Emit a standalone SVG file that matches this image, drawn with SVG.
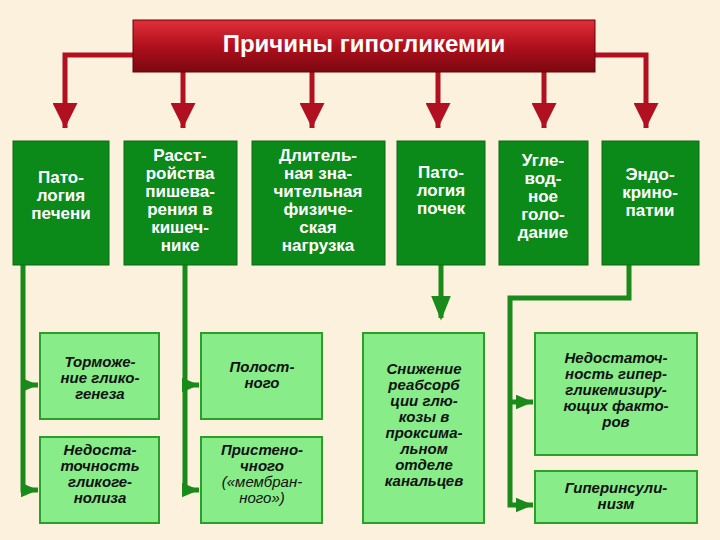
<svg xmlns="http://www.w3.org/2000/svg" width="720" height="540" viewBox="0 0 720 540">
<defs>
<linearGradient id="rg" x1="0" y1="0" x2="0" y2="1"><stop offset="0" stop-color="#e0303a"/><stop offset="0.5" stop-color="#b0101c"/><stop offset="1" stop-color="#7a0810"/></linearGradient>
<marker id="ra" markerWidth="6" markerHeight="5" refX="5" refY="2.5" orient="auto" markerUnits="strokeWidth"><path d="M0,0 L5,2.5 L0,5 Z" fill="#b01020"/></marker>
<marker id="ga" markerWidth="4" markerHeight="3" refX="3.5" refY="1.5" orient="auto" markerUnits="strokeWidth"><path d="M0,0 L3.5,1.5 L0,3 Z" fill="#1a8a1a"/></marker>
<marker id="gb" markerWidth="5" markerHeight="4" refX="4.5" refY="2" orient="auto" markerUnits="strokeWidth"><path d="M0,0 L5,2 L0,4 Z" fill="#1a8a1a"/></marker>
</defs>
<style>
.top{fill:#0b8a1a;stroke:#0a6a14;stroke-width:1}
.low{fill:#88ec88;stroke:#2aa02a;stroke-width:2}
.tt{font-family:"Liberation Sans",Arial,sans-serif;font-weight:bold;font-size:17px;fill:#fff;text-anchor:middle}
.lt{font-family:"Liberation Sans",Arial,sans-serif;font-weight:bold;font-style:italic;font-size:15px;fill:#111;text-anchor:middle}
.rl{stroke:#b01020;stroke-width:5;fill:none}
.gl{stroke:#1a8a1a;stroke-width:5;fill:none}
</style>
<rect width="720" height="540" fill="#fbf1dc"/>
<g id="connectors">
<path class="rl" d="M133,55 H65 V128" marker-end="url(#ra)"/>
<path class="rl" d="M183,72 V128" marker-end="url(#ra)"/>
<path class="rl" d="M312,72 V128" marker-end="url(#ra)"/>
<path class="rl" d="M438,72 V128" marker-end="url(#ra)"/>
<path class="rl" d="M544,72 V128" marker-end="url(#ra)"/>
<path class="rl" d="M595,55 H646 V128" marker-end="url(#ra)"/>
<path class="gl" d="M23,265 V492.5"/>
<path class="gl" d="M21,385 H38" marker-end="url(#ga)"/>
<path class="gl" d="M21,490 H38" marker-end="url(#ga)"/>
<path class="gl" d="M185,265 V492.5"/>
<path class="gl" d="M183,385 H199" marker-end="url(#ga)"/>
<path class="gl" d="M183,490 H199" marker-end="url(#ga)"/>
<path class="gl" d="M441,265 V318" marker-end="url(#gb)"/>
<path class="gl" d="M629,265 V298 H510 V505 H533" marker-end="url(#ga)"/>
<path class="gl" d="M508,402 H533" marker-end="url(#ga)"/>
</g>
<g id="title">
<rect x="133" y="20" width="462" height="52" fill="url(#rg)" stroke="#6a0008" stroke-width="1"/>
<text x="364" y="52" font-family="Liberation Sans,Arial,sans-serif" font-weight="bold" font-size="24" fill="#fff" text-anchor="middle">Причины гипогликемии</text>
</g>
<g id="n1"><rect class="top" x="13" y="141" width="96" height="124"/><text class="tt"><tspan x="61" y="183">Пато-</tspan><tspan x="61" y="201">логия</tspan><tspan x="61" y="219">печени</tspan></text></g>
<g id="n2"><rect class="top" x="124" y="141" width="113" height="124"/><text class="tt"><tspan x="180" y="161">Расст-</tspan><tspan x="180" y="179">ройства</tspan><tspan x="180" y="197">пишева-</tspan><tspan x="180" y="215">рения в</tspan><tspan x="180" y="233">кишеч-</tspan><tspan x="180" y="251">нике</tspan></text></g>
<g id="n3"><rect class="top" x="252" y="141" width="133" height="124"/><text class="tt"><tspan x="318" y="161">Длитель-</tspan><tspan x="318" y="179">ная зна-</tspan><tspan x="318" y="197">чительная</tspan><tspan x="318" y="215">физиче-</tspan><tspan x="318" y="233">ская</tspan><tspan x="318" y="251">нагрузка</tspan></text></g>
<g id="n4"><rect class="top" x="397" y="141" width="88" height="124"/><text class="tt"><tspan x="441" y="178">Пато-</tspan><tspan x="441" y="196">логия</tspan><tspan x="441" y="214">почек</tspan></text></g>
<g id="n5"><rect class="top" x="499" y="141" width="89" height="124"/><text class="tt"><tspan x="543" y="166">Угле-</tspan><tspan x="543" y="184">вод-</tspan><tspan x="543" y="202">ное</tspan><tspan x="543" y="220">голо-</tspan><tspan x="543" y="238">дание</tspan></text></g>
<g id="n6"><rect class="top" x="602" y="141" width="97" height="124"/><text class="tt"><tspan x="650" y="180">Эндо-</tspan><tspan x="650" y="198">крино-</tspan><tspan x="650" y="216">патии</tspan></text></g>
<g id="n7"><rect class="low" x="40" y="333" width="119" height="86"/><text class="lt"><tspan x="100" y="367">Торможе-</tspan><tspan x="100" y="383">ние глико-</tspan><tspan x="100" y="399">генеза</tspan></text></g>
<g id="n8"><rect class="low" x="40" y="437" width="119" height="86"/><text class="lt"><tspan x="100" y="455">Недоста-</tspan><tspan x="100" y="471">точность</tspan><tspan x="100" y="487">гликоге-</tspan><tspan x="100" y="503">нолиза</tspan></text></g>
<g id="n9"><rect class="low" x="201" y="333" width="121" height="86"/><text class="lt"><tspan x="262" y="372">Полост-</tspan><tspan x="262" y="388">ного</tspan></text></g>
<g id="n10"><rect class="low" x="201" y="437" width="121" height="86"/><text class="lt"><tspan x="262" y="455">Пристено-</tspan><tspan x="262" y="471">чного</tspan><tspan x="262" y="487" font-weight="normal">(«мембран-</tspan><tspan x="262" y="503" font-weight="normal">ного»)</tspan></text></g>
<g id="n11"><rect class="low" x="363" y="333" width="121" height="190"/><text class="lt"><tspan x="424" y="374">Снижение</tspan><tspan x="424" y="390">реабсорб</tspan><tspan x="424" y="406">ции глю-</tspan><tspan x="424" y="422">козы в</tspan><tspan x="424" y="438">проксима-</tspan><tspan x="424" y="454">льном</tspan><tspan x="424" y="470">отделе</tspan><tspan x="424" y="486">канальцев</tspan></text></g>
<g id="n12"><rect class="low" x="535" y="333" width="162" height="122"/><text class="lt"><tspan x="616" y="363">Недостаточ-</tspan><tspan x="616" y="379">ность гипер-</tspan><tspan x="616" y="395">гликемизиру-</tspan><tspan x="616" y="411">ющих факто-</tspan><tspan x="616" y="427">ров</tspan></text></g>
<g id="n13"><rect class="low" x="535" y="471" width="162" height="52"/><text class="lt"><tspan x="616" y="493">Гиперинсули-</tspan><tspan x="616" y="509">низм</tspan></text></g>
</svg>
